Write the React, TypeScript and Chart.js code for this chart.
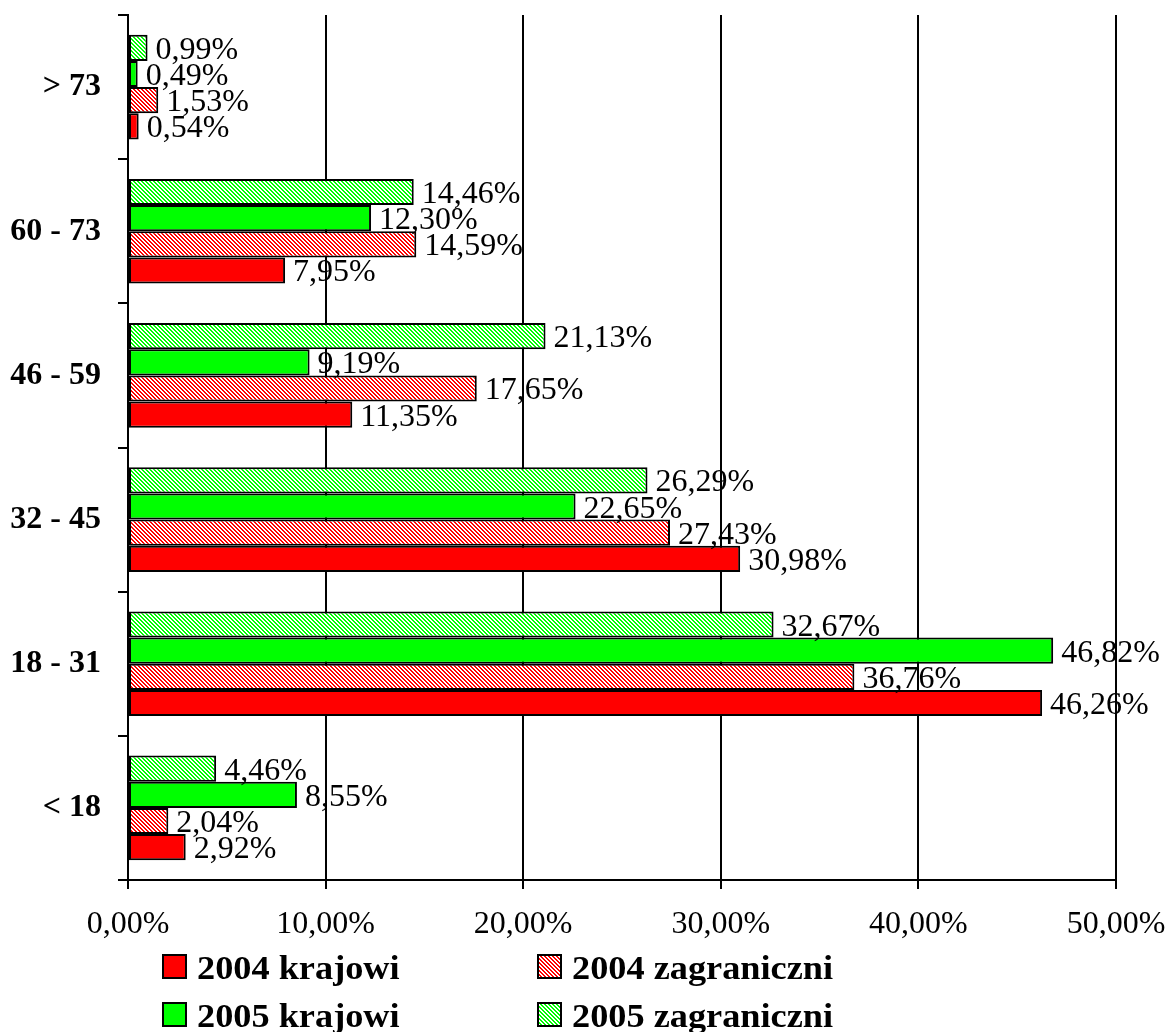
import React, { useEffect, useRef } from 'react';
import { Chart, registerables } from 'chart.js';

Chart.register(...registerables);

// Categories listed top to bottom as they appear in the chart
const categories = ['> 73', '60 - 73', '46 - 59', '32 - 45', '18 - 31', '< 18'];
const krajowi2004 = [0.54, 7.95, 11.35, 30.98, 46.26, 2.92];
const zagraniczni2004 = [1.53, 14.59, 17.65, 27.43, 36.76, 2.04];
const krajowi2005 = [0.49, 12.3, 9.19, 22.65, 46.82, 8.55];
const zagraniczni2005 = [0.99, 14.46, 21.13, 26.29, 32.67, 4.46];
const seriesNames = ['2004 krajowi', '2004 zagraniczni', '2005 krajowi', '2005 zagraniczni'];
const xMin = 0;
const xMax = 50;
const xStep = 10;

const SERIF = "'Liberation Serif', 'Times New Roman', serif";
const RED = '#ff0000';
const GREEN = '#00ff00';

const fmt = (v: number) => v.toFixed(2).replace('.', ',') + '%';

function hatch(color: string): CanvasPattern {
  const c = document.createElement('canvas');
  c.width = 4;
  c.height = 4;
  const g = c.getContext('2d')!;
  g.fillStyle = '#ffffff';
  g.fillRect(0, 0, 4, 4);
  g.fillStyle = color;
  for (let i = 0; i < 4; i++) {
    g.fillRect(i, i, 1, 1);
    g.fillRect((i + 1) % 4, i, 1, 1);
  }
  return g.createPattern(c, 'repeat')!;
}

export default function App() {
  const ref = useRef<HTMLCanvasElement | null>(null);

  useEffect(() => {
    const canvas = ref.current;
    if (!canvas) return;
    const redHatch = hatch(RED);
    const greenHatch = hatch(GREEN);

    const labelPlugin = {
      id: 'valueLabels',
      afterDatasetsDraw(chart: any) {
        const ctx = chart.ctx as CanvasRenderingContext2D;
        ctx.save();
        ctx.font = `32px ${SERIF}`;
        ctx.fillStyle = '#000';
        ctx.textAlign = 'left';
        ctx.textBaseline = 'alphabetic';
        chart.data.datasets.forEach((ds: any, di: number) => {
          const meta = chart.getDatasetMeta(di);
          meta.data.forEach((el: any, i: number) => {
            const v = ds.data[i] as number;
            ctx.fillText(fmt(v), el.x + 8, el.y + 11);
          });
        });
        ctx.restore();
      },
    };

    const legendPlugin = {
      id: 'customLegend',
      afterDraw(chart: any) {
        const ctx = chart.ctx as CanvasRenderingContext2D;
        const items = [
          { label: seriesNames[0], fill: RED as any, x: 162, y: 954 },
          { label: seriesNames[1], fill: redHatch as any, x: 537, y: 954 },
          { label: seriesNames[2], fill: GREEN as any, x: 162, y: 1002 },
          { label: seriesNames[3], fill: greenHatch as any, x: 537, y: 1002 },
        ];
        ctx.save();
        items.forEach((it) => {
          ctx.fillStyle = it.fill;
          ctx.fillRect(it.x, it.y, 25, 25);
          ctx.strokeStyle = '#000';
          ctx.lineWidth = 2;
          ctx.strokeRect(it.x + 1, it.y + 1, 23, 23);
          ctx.save();
          ctx.translate(it.x + 35, it.y + 25);
          ctx.scale(1.1, 1);
          ctx.font = `bold 33px ${SERIF}`;
          ctx.fillStyle = '#000';
          ctx.textAlign = 'left';
          ctx.textBaseline = 'alphabetic';
          ctx.fillText(it.label, 0, 0);
          ctx.restore();
        });
        ctx.restore();
      },
    };

    const chart = new Chart(canvas, {
      type: 'bar',
      data: {
        labels: categories,
        datasets: [
          { label: seriesNames[3], data: zagraniczni2005, backgroundColor: greenHatch as any },
          { label: seriesNames[2], data: krajowi2005, backgroundColor: GREEN },
          { label: seriesNames[1], data: zagraniczni2004, backgroundColor: redHatch as any },
          { label: seriesNames[0], data: krajowi2004, backgroundColor: RED },
        ].map((d) => ({
          ...d,
          borderColor: '#000',
          borderWidth: 2,
          borderSkipped: false,
          categoryPercentage: 0.726,
          barPercentage: 1.0,
        })),
      },
      options: {
        indexAxis: 'y',
        animation: false,
        responsive: false,
        maintainAspectRatio: false,
        layout: { padding: { top: 15, right: 52, bottom: 0, left: 0 } },
        plugins: {
          legend: { display: false },
          tooltip: { enabled: false },
        },
        scales: {
          x: {
            type: 'linear',
            min: xMin,
            max: xMax,
            afterFit: (s: any) => {
              s.height = 152;
              s.paddingLeft = 0;
              s.paddingRight = 0;
            },
            ticks: {
              stepSize: xStep,
              callback: (v: any) => fmt(Number(v)),
              font: { family: SERIF, size: 32 },
              color: '#000',
              padding: 16,
            },
            grid: { color: '#000', lineWidth: 2, tickLength: 9, drawTicks: true },
            border: { display: true, color: '#000', width: 2 },
          },
          y: {
            type: 'category',
            afterFit: (s: any) => {
              s.width = 128;
              s.paddingTop = 0;
              s.paddingBottom = 0;
            },
            ticks: {
              font: { family: SERIF, size: 32, weight: 'bold' },
              color: '#000',
              padding: 17,
            },
            grid: {
              offset: true,
              drawOnChartArea: false,
              drawTicks: true,
              tickLength: 10,
              color: '#000',
              lineWidth: 2,
            },
            border: { display: true, color: '#000', width: 2 },
          },
        },
      } as any,
      plugins: [labelPlugin, legendPlugin],
    });

    return () => chart.destroy();
  }, []);

  return (
    <div style={{ position: 'fixed', left: 0, top: 0, width: 1168, height: 1032, background: '#fff' }}>
      <canvas ref={ref} width={1168} height={1032} style={{ width: 1168, height: 1032, display: 'block' }} />
    </div>
  );
}
